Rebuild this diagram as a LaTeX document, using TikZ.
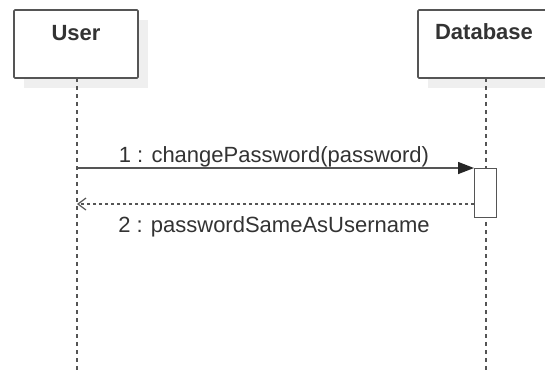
\documentclass[tikz,border=0pt]{standalone}
\usepackage{fontspec}
\setmainfont{Liberation Sans}
\usetikzlibrary{arrows.meta}
\definecolor{linegrey}{HTML}{555555}
\definecolor{textgrey}{HTML}{333333}
\definecolor{shadowgrey}{HTML}{EFEFEF}
\tikzset{
  objbox/.style={draw=linegrey, line width=1.6pt, fill=white, rounded corners=1pt},
  objshadow/.style={fill=shadowgrey, draw=none},
  objlabel/.style={font=\bfseries\fontsize{22}{24}\selectfont, text=textgrey, inner sep=0pt, anchor=base},
  lifeline/.style={draw=linegrey, line width=1.4pt, dash pattern=on 4pt off 4pt},
  actbox/.style={draw=linegrey, line width=1.4pt, fill=white},
  callmsg/.style={draw=linegrey, line width=1.4pt, -{Triangle[length=16pt,width=12pt,color=black!85,fill=black!85]}},
  retmsg/.style={draw=linegrey, line width=1.2pt, dash pattern=on 3pt off 3pt, -{Straight Barb[length=8pt,width=12pt,line width=1.2pt]}},
  msglabel/.style={font=\fontsize{22}{24}\selectfont, text=textgrey, inner sep=0pt, anchor=base}
}
\begin{document}
\begin{tikzpicture}[x=1pt, y=-1pt]
\useasboundingbox (0,0) rectangle (545,373);
\fill[white] (0,0) rectangle (545,373);

% object heads with soft shadows
\fill[objshadow] (24,20) rectangle (148,88);
\fill[objshadow] (428,20) rectangle (560,88);
\draw[objbox] (14,10) rectangle (138,78);
\draw[objbox] (418,10) rectangle (552,78);
\node[objlabel] (user) at (76,40) {User};
\node[objlabel] (db) at (484,39) {Database};

% lifelines
\coordinate (userTop) at (77,78);
\coordinate (userEnd) at (77,373);
\coordinate (dbTop) at (486,78);
\coordinate (dbEnd) at (486,373);
\draw[lifeline] (userTop) -- (userEnd);
\draw[lifeline] (dbTop) -- (dbEnd);

% activation on the database lifeline
\node[actbox, minimum width=22pt, minimum height=49pt, inner sep=0pt, anchor=north west] (act) at (474,168) {};

% messages
\coordinate (callStart) at (77,168);
\coordinate (retEnd) at (77,204);
\draw[callmsg] (callStart) -- (act.north west);
\draw[retmsg] (act.west |- retEnd) -- (retEnd);
\node[msglabel] (m1) at (274,162) {1 : changePassword(password)};
\node[msglabel] (m2) at (274,232) {2 : passwordSameAsUsername};
\end{tikzpicture}
\end{document}
